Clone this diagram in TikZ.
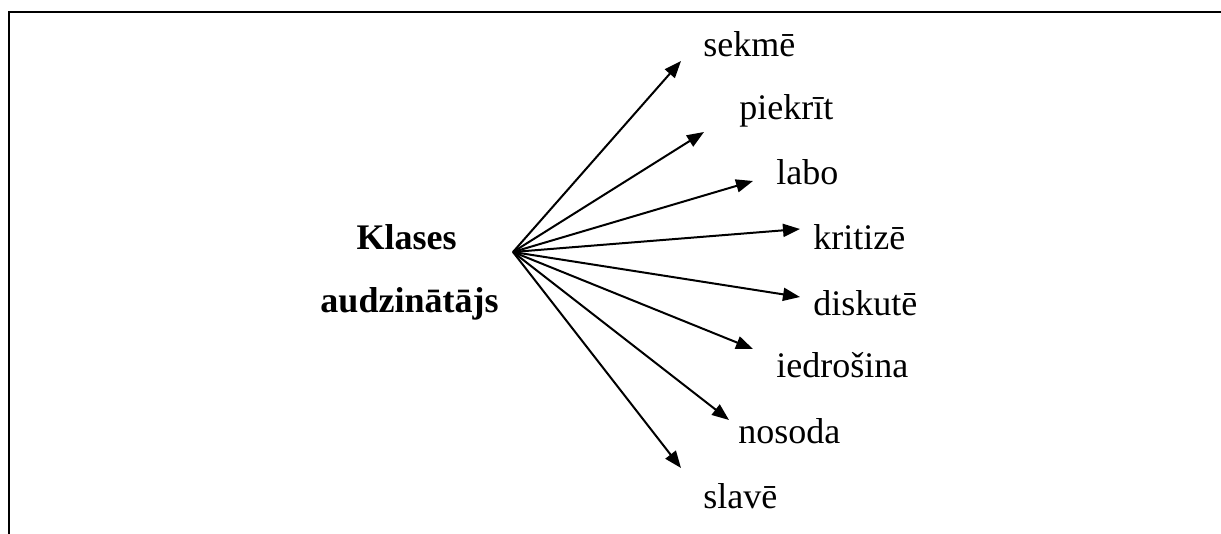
\documentclass[tikz,border=0pt]{standalone}
\usepackage{fontspec}
\setmainfont{Liberation Serif}
\usetikzlibrary{arrows.meta}
\begin{document}
\begin{tikzpicture}[x=0.5pt,y=-0.5pt,
  frameline/.style={line width=1pt,black},
  ray/.style={line width=1pt,black,-{Triangle[length=8.5pt,width=6.5pt]}},
  word/.style={inner sep=0pt,anchor=base west,font=\fontsize{18}{22}\selectfont},
  title/.style={inner sep=0pt,anchor=base,font=\fontsize{18}{22}\selectfont\bfseries}]
  \useasboundingbox (0,0) rectangle (1221,534);
  % open frame: top and left borders
  \draw[frameline] (9,534) -- (9,12.5) -- (1221,12.5);
  % central label
  \node[title] (t1) at (406.5,250) {Klases};
  \node[title] (t2) at (409.5,313) {audzinātājs};
  \coordinate (hub) at (513,252);
  % target words
  \node[word] (w1) at (703,57)  {sekmē};
  \node[word] (w2) at (739,120) {piekrīt};
  \node[word] (w3) at (776,185) {labo};
  \node[word] (w4) at (813,250) {kritizē};
  \node[word] (w5) at (813,315) {diskutē};
  \node[word] (w6) at (776,378) {iedrošina};
  \node[word] (w7) at (738,443) {nosoda};
  \node[word] (w8) at (703,508) {slavē};
  % arrow tips
  \coordinate (a1) at (681,61);
  \coordinate (a2) at (704,132);
  \coordinate (a3) at (753,181);
  \coordinate (a4) at (800,229);
  \coordinate (a5) at (800,297);
  \coordinate (a6) at (753,349);
  \coordinate (a7) at (729,420);
  \coordinate (a8) at (681,468);
  \foreach \i in {1,...,8}
    \draw[ray] (hub) -- (a\i);
\end{tikzpicture}
\end{document}
